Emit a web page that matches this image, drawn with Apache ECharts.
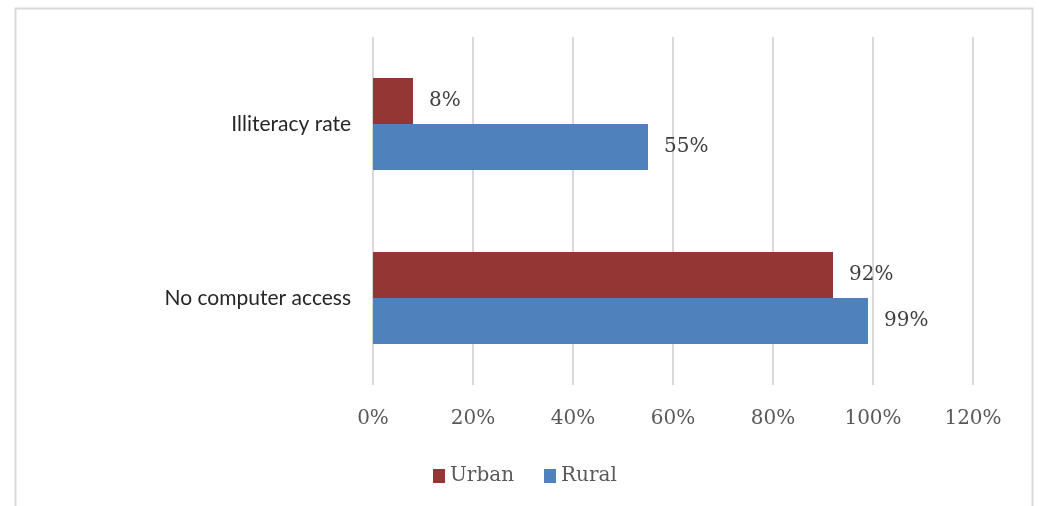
<!DOCTYPE html>
<html>
<head>
<meta charset="utf-8">
<script src="https://cdn.jsdelivr.net/npm/echarts@6/dist/echarts.min.js"></script>
<style>
  html, body { margin: 0; padding: 0; background: #fff; }
  #chart { width: 1039px; height: 506px; }
</style>
</head>
<body>
<div id="chart"></div>
<script>
const categories = ['Illiteracy rate', 'No computer access']
const urban = [8, 92]
const rural = [55, 99]
const seriesNames = ['Urban', 'Rural']
const xTicks = { min: 0, max: 120, step: 20 }

const chart = echarts.init(document.getElementById('chart'))

const serif = 'DejaVu Serif'

const barLabel = {
  show: true,
  position: 'right',
  distance: 16,
  formatter: '{c}%',
  fontFamily: serif,
  fontSize: 20,
  color: '#404040',
}

const option = {
  animation: false,
  graphic: [
    {
      type: 'rect',
      shape: { x: 15.5, y: 8.5, width: 1017, height: 540 },
      style: { fill: 'none', stroke: '#d9d9d9', lineWidth: 2 },
      silent: true,
    },
  ],
  grid: {
    left: 373,
    right: 66,
    top: 37,
    bottom: 121,
  },
  legend: {
    data: seriesNames,
    left: 428,
    top: 461,
    icon: 'rect',
    itemWidth: 12,
    itemHeight: 14,
    itemGap: 30,
    textStyle: {
      fontFamily: serif,
      fontSize: 20,
      color: '#595959',
    },
  },
  xAxis: {
    type: 'value',
    min: xTicks.min,
    max: xTicks.max,
    interval: xTicks.step,
    axisLine: { show: false },
    axisTick: { show: false },
    axisLabel: {
      formatter: '{value}%',
      fontFamily: serif,
      fontSize: 20,
      color: '#595959',
      margin: 24,
    },
    splitLine: { lineStyle: { color: '#d9d9d9', width: 2 } },
  },
  yAxis: {
    type: 'category',
    inverse: true,
    data: categories,
    axisLine: { show: false },
    axisTick: { show: false },
    axisLabel: {
      fontFamily: 'Lato',
      fontSize: 21,
      color: '#262626',
      margin: 22,
    },
  },
  series: [
    {
      name: seriesNames[0],
      type: 'bar',
      data: urban,
      barWidth: 46,
      barGap: '0%',
      itemStyle: { color: '#943634' },
      label: barLabel,
    },
    {
      name: seriesNames[1],
      type: 'bar',
      data: rural,
      barWidth: 46,
      barGap: '0%',
      itemStyle: { color: '#4f81bd' },
      label: barLabel,
    },
  ],
}

chart.setOption(option)
</script>
</body>
</html>
